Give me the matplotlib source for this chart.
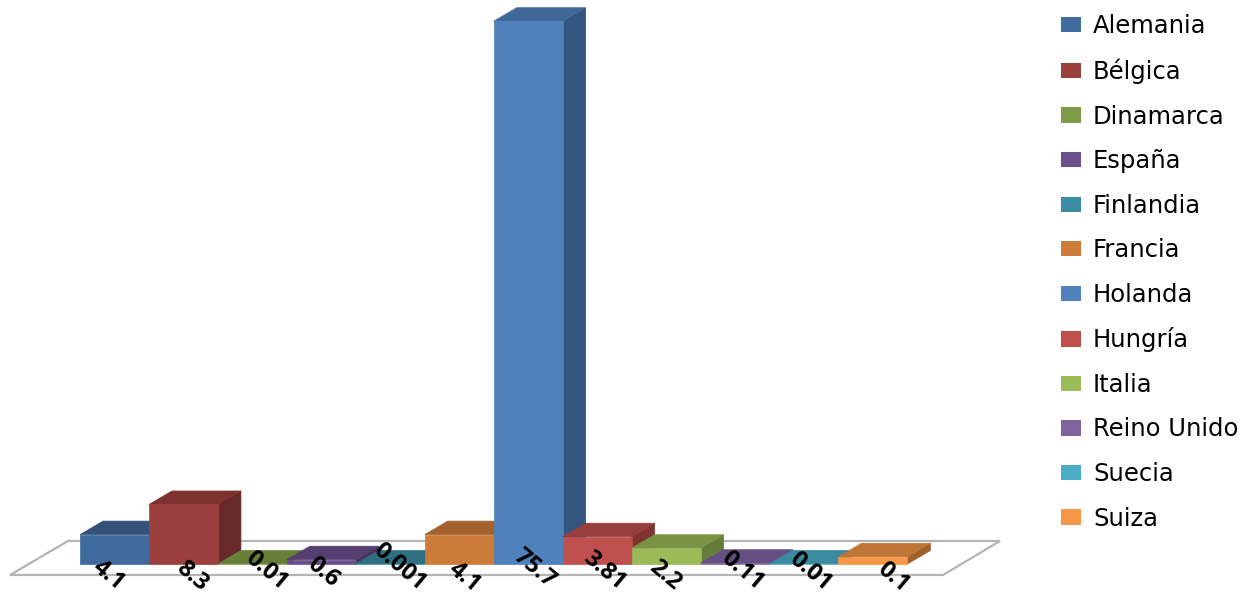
import matplotlib
matplotlib.use("Agg")
import matplotlib.pyplot as plt
from matplotlib.patches import Patch, Polygon

countries = ["Alemania", "Bélgica", "Dinamarca", "España", "Finlandia", "Francia",
             "Holanda", "Hungría", "Italia", "Reino Unido", "Suecia", "Suiza"]
bar_heights = [4.1, 8.3, 0.01, 0.6, 0.001, 4.1, 75.7, 3.81, 2.2, 0.11, 0.01, 1.0]
value_labels = ["4.1", "8.3", "0.01", "0.6", "0.001", "4.1", "75.7", "3.81", "2.2", "0.11", "0.01", "0.1"]

front_colors = ["#3F6B9F", "#9C403E", "#7F9A48", "#69508A", "#3A8BA3", "#CC7B38",
                "#4F81BD", "#C0504D", "#9BBB59", "#8064A2", "#4BACC6", "#F79646"]
top_colors = ["#345277", "#7D3230", "#66803A", "#553E70", "#2F6F82", "#A3622D",
              "#3F6797", "#963F3D", "#7A9446", "#664F82", "#3A8BA0", "#BE7535"]
side_colors = ["#2B4363", "#672A28", "#556B30", "#46345D", "#275C6C", "#875125",
               "#34557F", "#7F3432", "#667C3B", "#55426C", "#307385", "#9E612B"]

W, H = 1251, 595
PX_X, PX_Y = 68.95, 7.17         # pixels per category / per value unit
X0, Y0 = 114.5, 564.0            # pixel position of first bar centre / baseline
DX, DY = 23 / PX_X, 13.5 / PX_Y  # depth of the bars in data units
BW = 1.0

fig = plt.figure(figsize=(W / 100, H / 100), dpi=100)
ax = fig.add_axes([0, 0, 1, 1])
ax.set_xlim(-X0 / PX_X, (W - X0) / PX_X)
ax.set_ylim(-(H - Y0) / PX_Y, Y0 / PX_Y)
ax.axis("off")

# floor
fx = lambda px: (px - X0) / PX_X
fy = lambda py: (Y0 - py) / PX_Y
floor = Polygon([(fx(10), fy(575)), (fx(68), fy(541)), (fx(1000), fy(541)), (fx(943), fy(575))],
                closed=True, facecolor="white", edgecolor="#B4B4B4", linewidth=1.6, zorder=1)
ax.add_patch(floor)

for i, (h, fc, tc, sc) in enumerate(zip(bar_heights, front_colors, top_colors, side_colors)):
    l, r = i - BW / 2, i + BW / 2
    z = 2 + i
    ax.add_patch(Polygon([(r, 0), (r + DX, DY), (r + DX, h + DY), (r, h)], closed=True,
                         facecolor=sc, edgecolor=sc, linewidth=0.5, zorder=z))
    ax.add_patch(Polygon([(l, h), (l + DX, h + DY), (r + DX, h + DY), (r, h)], closed=True,
                         facecolor=tc, edgecolor=tc, linewidth=0.5, zorder=z))
    ax.bar(i, h, width=BW, color=fc, edgecolor=fc, linewidth=0.5, zorder=z + 0.5)

label_nudge_x = [-6, 8, 14, 2, 9, 5, 6, 7, -1, 7, 6, 20]
label_y = [575, 576, 571, 572, 567, 577, 569, 571, 575, 571, 572, 577]
for i, lab in enumerate(value_labels):
    ax.annotate(lab, xy=(i, 0), xytext=(label_nudge_x[i], Y0 - label_y[i]), textcoords="offset pixels",
                rotation=-40, rotation_mode="anchor", ha="center", va="center",
                fontsize=17, fontweight="bold", family="Open Sans", color="black", zorder=30)

handles = [Patch(facecolor=c, edgecolor="none") for c in front_colors]
ax.legend(handles, countries, loc="upper left", bbox_to_anchor=(1049 / W, 1 - 2 / H),
          bbox_transform=fig.transFigure, frameon=False,
          prop={"family": "DejaVu Sans", "size": 17.5}, labelspacing=0.845,
          handlelength=0.81, handleheight=0.6, handletextpad=0.5, borderpad=0)

fig.savefig("out.png", dpi=100)
